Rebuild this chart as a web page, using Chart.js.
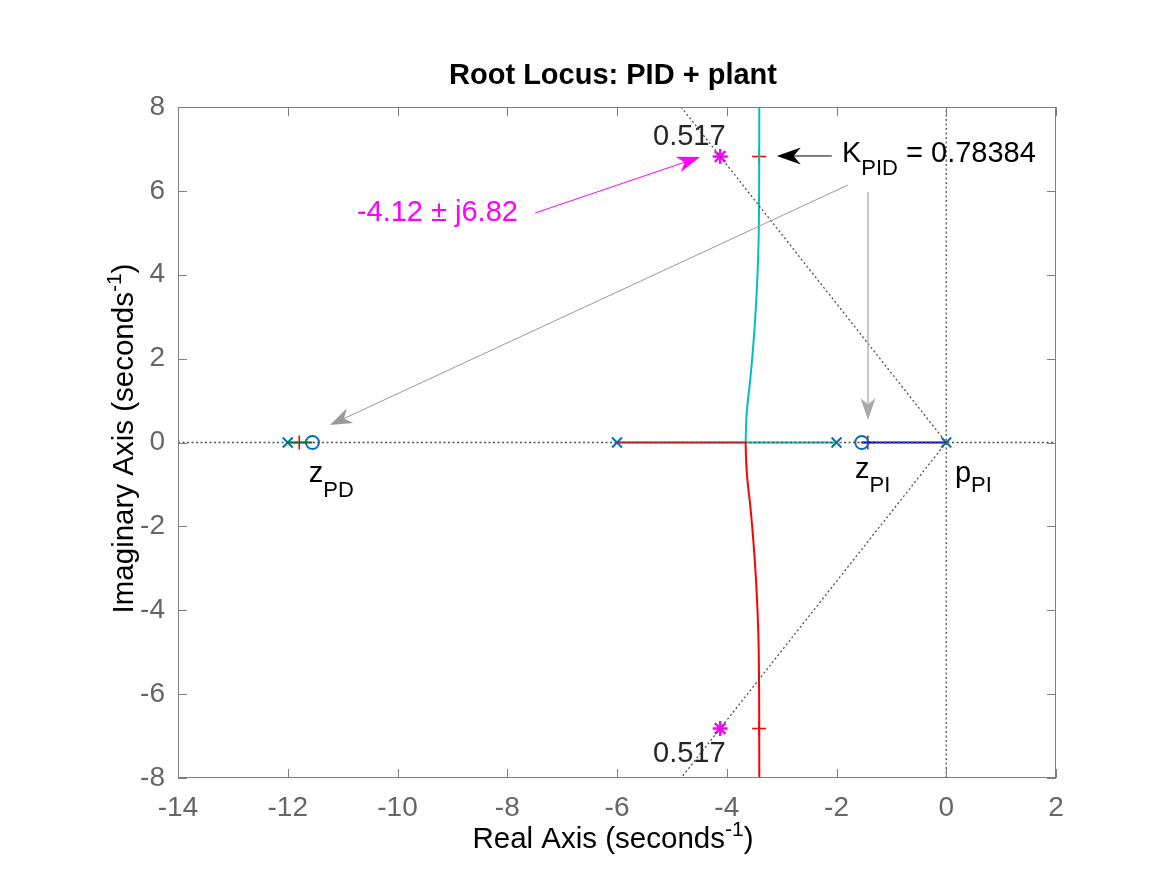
<!DOCTYPE html>
<html><head><meta charset="utf-8">
<script src="https://cdn.jsdelivr.net/npm/chart.js@4.4.1/dist/chart.umd.min.js"></script>
<style>html,body{margin:0;padding:0;background:#fff;} canvas{display:block;}</style>
</head><body>
<canvas id="c" width="1167" height="875"></canvas>
<script>
// ---------- data ----------
const xTicks = [-14, -12, -10, -8, -6, -4, -2, 0, 2];
const yTicks = [-8, -6, -4, -2, 0, 2, 4, 6, 8];
const openLoopPoles = [-12, -6, -2, 0];
const openLoopZeros = [-11.55, -1.54];
const closedPolesRe = [-11.79, -3.41, -3.41, -1.43];
const closedPolesIm = [0, 6.82, -6.82, 0];
const desiredRe = [-4.12, -4.12];
const desiredIm = [6.82, -6.82];
const zeta = 0.517;
const gainK = '0.78384';
const desiredLabel = '-4.12 ± j6.82';
// complex branch (upper half; the lower half is its conjugate)
const branchImag = [0, 0.4, 0.7, 1.1, 1.5, 2, 2.5, 3, 3.5, 4, 4.5, 5, 6, 7, 8, 9];
const branchReal = [-3.656, -3.648, -3.636, -3.607, -3.572, -3.537, -3.506, -3.48, -3.458, -3.44, -3.426, -3.417, -3.41, -3.408, -3.407, -3.406];
// real-axis segments
const greenSeg = [-12, -11.55];
const redSeg = [-6, -3.656];
const cyanSeg = [-2, -3.656];
const blueSeg = [0, -1.54];

// ---------- annotation layout (data coordinates) ----------
const notes = {
  zetaUp: {x: -5.344, y: 7.094},
  zetaDn: {x: -5.344, y: -7.618},
  desired: {x: -10.74, y: 5.282},
  gain: {x: -1.90, y: 6.689},
  zPD: {x: -11.617, y: -0.942},
  zPI: {x: -1.663, y: -0.847},
  pPI: {x: 0.159, y: -0.942},
  arrows: [
    {from: [-7.494, 5.472], to: [-4.487, 6.807], color: '#ff00ff', lw: 1, hl: 23, hw: 16},
    {from: [-2.086, 6.832], to: [-3.088, 6.832], color: '#000000', lw: 1, hl: 24, hw: 17},
    {from: [-1.790, 6.140], to: [-11.23, 0.417], color: '#999999', lw: 1, hl: 22, hw: 16},
    {from: [-1.426, 5.973], to: [-1.426, 0.537], color: '#aaaaaa', lw: 1.3, hl: 22, hw: 15}
  ]
};

const FONT = '"Liberation Sans", Arial, Helvetica, sans-serif';

const seg = (a) => a.map(v => ({x: v, y: 0}));
const upper = branchReal.map((r, i) => ({x: r, y: branchImag[i]}));
const lower = branchReal.map((r, i) => ({x: r, y: -branchImag[i]}));
const theta = Math.acos(zeta);
const zx = -8 / Math.tan(theta);
const dotted = {borderColor: '#505050', borderWidth: 1.3, borderDash: [2, 2.5], pointRadius: 0, showLine: true, fill: false};
const locus = (c, t) => ({borderColor: c, borderWidth: 2, pointRadius: 0, showLine: true, fill: false, tension: t || 0});

const datasets = [
  Object.assign({data: [{x: -14, y: 0}, {x: 2, y: 0}]}, dotted),
  Object.assign({data: [{x: 0, y: -8}, {x: 0, y: 8}]}, dotted),
  Object.assign({data: [{x: zx, y: 8}, {x: 0, y: 0}, {x: zx, y: -8}]}, dotted),
  Object.assign({data: seg(greenSeg)}, locus('#008000')),
  Object.assign({data: seg(redSeg)}, locus('#ff0000')),
  Object.assign({data: lower}, locus('#ff0000', 0.35)),
  Object.assign({data: seg(cyanSeg)}, locus('#00bfbf')),
  Object.assign({data: upper}, locus('#00bfbf', 0.35)),
  Object.assign({data: seg(blueSeg)}, locus('#0000ff')),
  {data: openLoopPoles.map(v => ({x: v, y: 0})), pointStyle: 'crossRot', pointRadius: 7, borderColor: '#0072bd', borderWidth: 2, showLine: false},
  {data: openLoopZeros.map(v => ({x: v, y: 0})), pointStyle: 'circle', pointRadius: 6.5, borderColor: '#0072bd', backgroundColor: 'rgba(0,0,0,0)', borderWidth: 2, showLine: false},
  {data: closedPolesRe.map((r, i) => ({x: r, y: closedPolesIm[i]})), pointStyle: 'cross', pointRadius: 7, borderColor: '#ff0000', borderWidth: 1.6, showLine: false},
  {data: desiredRe.map((r, i) => ({x: r, y: desiredIm[i]})), pointStyle: 'star', pointRadius: 7.5, borderColor: '#ff00ff', borderWidth: 2.4, showLine: false}
];

function drawRich(ctx, x, y, parts) {
  let cx = x;
  parts.forEach(p => {
    ctx.font = (p.bold ? 'bold ' : '') + p.size + 'px ' + FONT;
    ctx.fillText(p.t, cx, y + (p.dy || 0));
    cx += ctx.measureText(p.t).width;
  });
  return cx;
}
function richWidth(ctx, parts) {
  let w = 0;
  parts.forEach(p => { ctx.font = p.size + 'px ' + FONT; w += ctx.measureText(p.t).width; });
  return w;
}
function arrow(ctx, x1, y1, x2, y2, color, lw, hl, hw) {
  const ang = Math.atan2(y2 - y1, x2 - x1);
  const c = Math.cos(ang), s = Math.sin(ang);
  const px = -s, py = c;
  ctx.strokeStyle = color; ctx.fillStyle = color; ctx.lineWidth = lw; ctx.setLineDash([]);
  ctx.beginPath(); ctx.moveTo(x1, y1); ctx.lineTo(x2 - hl * 0.6 * c, y2 - hl * 0.6 * s); ctx.stroke();
  const bx = x2 - hl * c, by = y2 - hl * s;
  ctx.beginPath();
  ctx.moveTo(x2, y2);
  ctx.lineTo(bx + px * hw / 2, by + py * hw / 2);
  ctx.lineTo(x2 - hl * 0.7 * c, y2 - hl * 0.7 * s);
  ctx.lineTo(bx - px * hw / 2, by - py * hw / 2);
  ctx.closePath(); ctx.fill();
}

const overlay = {
  id: 'overlay',
  afterDatasetsDraw(chart) {
    const {ctx, chartArea: a, scales: {x, y}} = chart;
    const X = v => x.getPixelForValue(v), Y = v => y.getPixelForValue(v);
    ctx.save();
    // frame + inward ticks
    ctx.strokeStyle = '#7f7f7f'; ctx.lineWidth = 1; ctx.setLineDash([]);
    ctx.strokeRect(Math.round(a.left) + 0.5, Math.round(a.top) + 0.5, Math.round(a.right - a.left) - 1, Math.round(a.bottom - a.top) - 1);
    const tl = 9;
    ctx.beginPath();
    x.ticks.forEach(t => { const p = Math.round(X(t.value)) + 0.5; ctx.moveTo(p, a.bottom); ctx.lineTo(p, a.bottom - tl); ctx.moveTo(p, a.top); ctx.lineTo(p, a.top + tl); });
    y.ticks.forEach(t => { const p = Math.round(Y(t.value)) + 0.5; ctx.moveTo(a.left, p); ctx.lineTo(a.left + tl, p); ctx.moveTo(a.right, p); ctx.lineTo(a.right - tl, p); });
    ctx.stroke();

    // arrows
    notes.arrows.forEach(ar => arrow(ctx, X(ar.from[0]), Y(ar.from[1]), X(ar.to[0]), Y(ar.to[1]), ar.color, ar.lw, ar.hl, ar.hw));

    // texts
    const TS = 29, SS = 22;
    ctx.textAlign = 'left'; ctx.textBaseline = 'alphabetic';
    ctx.fillStyle = '#262626';
    drawRich(ctx, X(notes.zetaUp.x), Y(notes.zetaUp.y), [{t: zeta.toString(), size: TS}]);
    drawRich(ctx, X(notes.zetaDn.x), Y(notes.zetaDn.y), [{t: zeta.toString(), size: TS}]);
    ctx.fillStyle = '#ff00ff';
    drawRich(ctx, X(notes.desired.x), Y(notes.desired.y), [{t: desiredLabel, size: TS}]);
    ctx.fillStyle = '#000000';
    drawRich(ctx, X(notes.gain.x), Y(notes.gain.y), [{t: 'K', size: TS}, {t: 'PID', size: SS, dy: 13}, {t: ' = ' + gainK, size: TS}]);
    drawRich(ctx, X(notes.zPD.x), Y(notes.zPD.y), [{t: 'z', size: TS}, {t: 'PD', size: SS, dy: 15}]);
    drawRich(ctx, X(notes.zPI.x), Y(notes.zPI.y), [{t: 'z', size: TS}, {t: 'PI', size: SS, dy: 14}]);
    drawRich(ctx, X(notes.pPI.x), Y(notes.pPI.y), [{t: 'p', size: TS}, {t: 'PI', size: SS, dy: 10}]);

    // title
    ctx.textAlign = 'center';
    ctx.font = 'bold 29px ' + FONT;
    ctx.fillStyle = '#000';
    ctx.fillText('Root Locus: PID + plant', (a.left + a.right) / 2 - 4, 84);

    // axis labels
    const LS = 29.5;
    const xl = [{t: 'Real Axis (seconds', size: LS}, {t: '-1', size: 21, dy: -12}, {t: ')', size: LS}];
    ctx.textAlign = 'left';
    ctx.fillStyle = '#000';
    const wx = richWidth(ctx, xl);
    drawRich(ctx, (a.left + a.right) / 2 - wx / 2 - 4, 848, xl);
    const yl = [{t: 'Imaginary Axis (seconds', size: LS}, {t: '-1', size: 21, dy: -12}, {t: ')', size: LS}];
    const wy = richWidth(ctx, yl);
    ctx.save();
    ctx.translate(133, (a.top + a.bottom) / 2 - 4);
    ctx.rotate(-Math.PI / 2);
    drawRich(ctx, -wy / 2, 0, yl);
    ctx.restore();
    ctx.restore();
  }
};

new Chart(document.getElementById('c'), {
  type: 'scatter',
  data: {datasets},
  options: {
    responsive: false,
    animation: false,
    devicePixelRatio: 1,
    layout: {padding: {left: 0, top: 107, right: 111, bottom: 0}},
    plugins: {legend: {display: false}, tooltip: {enabled: false}, title: {display: false}},
    scales: {
      x: {
        type: 'linear', min: xTicks[0], max: xTicks[xTicks.length - 1],
        afterBuildTicks: s => { s.ticks = xTicks.map(v => ({value: v})); },
        afterFit: s => { s.height = 97; },
        grid: {display: false, drawTicks: false}, border: {display: false},
        ticks: {font: {size: 28, family: FONT}, color: '#666666', padding: 13, autoSkip: false, maxRotation: 0}
      },
      y: {
        type: 'linear', min: yTicks[0], max: yTicks[yTicks.length - 1],
        afterBuildTicks: s => { s.ticks = yTicks.map(v => ({value: v})); },
        afterFit: s => { s.width = 178; },
        grid: {display: false, drawTicks: false}, border: {display: false},
        ticks: {font: {size: 28, family: FONT}, color: '#666666', padding: 13, autoSkip: false}
      }
    }
  },
  plugins: [overlay]
});
</script>
</body></html>
